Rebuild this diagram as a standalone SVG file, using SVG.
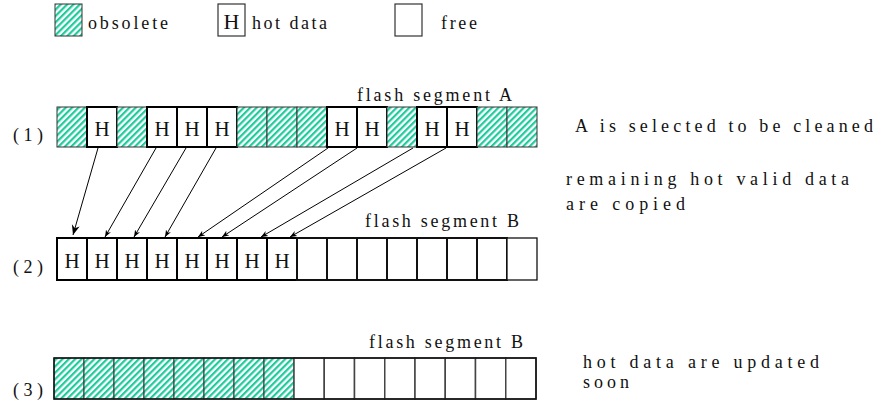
<svg xmlns="http://www.w3.org/2000/svg" width="888" height="413" viewBox="0 0 888 413">
<defs>
<pattern id="hatch" patternUnits="userSpaceOnUse" width="4.5" height="4.5" patternTransform="rotate(45)">
<rect x="0" y="0" width="4.5" height="4.5" fill="#ffffff"/>
<rect x="0" y="0" width="2.2" height="4.5" fill="#1ecb9c"/>
</pattern>
<marker id="ah" viewBox="0 0 10 10" refX="10" refY="5" markerWidth="7" markerHeight="7" markerUnits="userSpaceOnUse" orient="auto">
<path d="M0,1 L10,5 L0,9 L3,5 Z" fill="#000"/>
</marker>
<marker id="ahBig" viewBox="0 0 10 10" refX="10" refY="5" markerWidth="10" markerHeight="10" markerUnits="userSpaceOnUse" orient="auto">
<path d="M0,1 L10,5 L0,9 L3,5 Z" fill="#000"/>
</marker>
</defs>
<style>
text { font-family: "Liberation Serif", "Times New Roman", serif; fill: #111; }
.lbl { font-size: 18px; }
.h { font-size: 21px; text-anchor: middle; }
.obs { fill: url(#hatch); stroke: #333; stroke-width: 1; }
.hot { fill: #fff; stroke: #000; stroke-width: 2; }
.free { fill: #fff; stroke: #111; stroke-width: 2; }
.free3 { fill: #fff; stroke: #444; stroke-width: 1.5; }
.conn { stroke: #000; stroke-width: 1; fill: none; }
</style>

<g id="legend">
<rect class="obs" x="55" y="4" width="27" height="32"/>
<text class="lbl" x="88" y="29" textLength="80" lengthAdjust="spacing">obsolete</text>
<rect x="218" y="4" width="27" height="32" fill="#fff" stroke="#333" stroke-width="1.2"/>
<text class="h" x="231.5" y="29" style="font-size:22px">H</text>
<text class="lbl" x="252" y="29" textLength="75" lengthAdjust="spacing">hot data</text>
<rect x="395" y="4" width="27" height="32" fill="#fff" stroke="#333" stroke-width="1.2"/>
<text class="lbl" x="441" y="29" textLength="36" lengthAdjust="spacing">free</text>
</g>

<g id="segmentA">
<text class="lbl" x="357" y="101" textLength="155" lengthAdjust="spacing">flash segment A</text>
<text class="lbl" x="13" y="141" textLength="30" lengthAdjust="spacing">(1)</text>
<rect class="obs" x="57" y="107" width="30" height="40"/>
<rect class="hot" x="87" y="107" width="30" height="40"/>
<rect class="obs" x="117" y="107" width="30" height="40"/>
<rect class="hot" x="147" y="107" width="30" height="40"/>
<rect class="hot" x="177" y="107" width="30" height="40"/>
<rect class="hot" x="207" y="107" width="30" height="40"/>
<rect class="obs" x="237" y="107" width="30" height="40"/>
<rect class="obs" x="267" y="107" width="30" height="40"/>
<rect class="obs" x="297" y="107" width="30" height="40"/>
<rect class="hot" x="327" y="107" width="30" height="40"/>
<rect class="hot" x="357" y="107" width="30" height="40"/>
<rect class="obs" x="387" y="107" width="30" height="40"/>
<rect class="hot" x="417" y="107" width="30" height="40"/>
<rect class="hot" x="447" y="107" width="30" height="40"/>
<rect class="obs" x="477" y="107" width="30" height="40"/>
<rect class="obs" x="507" y="107" width="30" height="40"/>
<text class="h" x="102" y="136">H</text>
<text class="h" x="162" y="136">H</text>
<text class="h" x="192" y="136">H</text>
<text class="h" x="222" y="136">H</text>
<text class="h" x="342" y="136">H</text>
<text class="h" x="372" y="136">H</text>
<text class="h" x="432" y="136">H</text>
<text class="h" x="462" y="136">H</text>
</g>

<g id="segmentB2">
<text class="lbl" x="365" y="227" textLength="154" lengthAdjust="spacing">flash segment B</text>
<text class="lbl" x="13" y="273" textLength="30" lengthAdjust="spacing">(2)</text>
<rect class="hot" x="57" y="238" width="30" height="42"/>
<rect class="hot" x="87" y="238" width="30" height="42"/>
<rect class="hot" x="117" y="238" width="30" height="42"/>
<rect class="hot" x="147" y="238" width="30" height="42"/>
<rect class="hot" x="177" y="238" width="30" height="42"/>
<rect class="hot" x="207" y="238" width="30" height="42"/>
<rect class="hot" x="237" y="238" width="30" height="42"/>
<rect class="hot" x="267" y="238" width="30" height="42"/>
<rect class="free" x="297" y="238" width="30" height="42"/>
<rect class="free" x="327" y="238" width="30" height="42"/>
<rect class="free" x="357" y="238" width="30" height="42"/>
<rect class="free" x="387" y="238" width="30" height="42"/>
<rect class="free" x="417" y="238" width="30" height="42"/>
<rect class="free" x="447" y="238" width="30" height="42"/>
<rect class="free" x="477" y="238" width="30" height="42"/>
<rect x="507" y="238" width="30" height="42" fill="#fff" stroke="#111" stroke-width="1.3"/>
<text class="h" x="72" y="268">H</text>
<text class="h" x="102" y="268">H</text>
<text class="h" x="132" y="268">H</text>
<text class="h" x="162" y="268">H</text>
<text class="h" x="192" y="268">H</text>
<text class="h" x="222" y="268">H</text>
<text class="h" x="252" y="268">H</text>
<text class="h" x="282" y="268">H</text>
</g>

<g id="segmentB3">
<text class="lbl" x="369" y="348" textLength="154" lengthAdjust="spacing">flash segment B</text>
<text class="lbl" x="13" y="396" textLength="30" lengthAdjust="spacing">(3)</text>
<rect class="obs" x="54" y="358" width="30" height="41"/>
<rect class="obs" x="84" y="358" width="30" height="41"/>
<rect class="obs" x="114" y="358" width="30" height="41"/>
<rect class="obs" x="144" y="358" width="30" height="41"/>
<rect class="obs" x="174" y="358" width="30" height="41"/>
<rect class="obs" x="204" y="358" width="30" height="41"/>
<rect class="obs" x="234" y="358" width="30" height="41"/>
<rect class="obs" x="264" y="358" width="30" height="41"/>
<rect class="free3" x="294" y="358" width="30.25" height="41"/>
<rect class="free3" x="324.25" y="358" width="30.25" height="41"/>
<rect class="free3" x="354.5" y="358" width="30.25" height="41"/>
<rect class="free3" x="384.75" y="358" width="30.25" height="41"/>
<rect class="free3" x="415" y="358" width="30.25" height="41"/>
<rect class="free3" x="445.25" y="358" width="30.25" height="41"/>
<rect class="free3" x="475.5" y="358" width="30.25" height="41"/>
<rect class="free3" x="505.75" y="358" width="30.25" height="41"/>
<rect x="54" y="358" width="482" height="41" fill="none" stroke="#111" stroke-width="1.5"/>
</g>

<g id="notes">
<text class="lbl" x="575" y="132" textLength="298" lengthAdjust="spacing">A is selected to be cleaned</text>
<text class="lbl" x="566" y="185" textLength="283" lengthAdjust="spacing">remaining hot valid data</text>
<text class="lbl" x="566" y="210" textLength="119" lengthAdjust="spacing">are copied</text>
<text class="lbl" x="583" y="368" textLength="236" lengthAdjust="spacing">hot data are updated</text>
<text class="lbl" x="583" y="388" textLength="46" lengthAdjust="spacing">soon</text>
</g>

<g id="connectors">
<line class="conn" x1="98" y1="148" x2="73" y2="235" marker-end="url(#ahBig)"/>
<line class="conn" x1="156" y1="148" x2="105" y2="237" marker-end="url(#ah)"/>
<line class="conn" x1="186" y1="148" x2="134" y2="237" marker-end="url(#ah)"/>
<line class="conn" x1="216" y1="148" x2="165" y2="237" marker-end="url(#ah)"/>
<line class="conn" x1="328" y1="148" x2="198" y2="237" marker-end="url(#ah)"/>
<line class="conn" x1="357" y1="148" x2="222" y2="237" marker-end="url(#ah)"/>
<line class="conn" x1="413" y1="148" x2="261" y2="237" marker-end="url(#ah)"/>
<line class="conn" x1="446" y1="148" x2="290" y2="237" marker-end="url(#ah)"/>
</g>
</svg>
